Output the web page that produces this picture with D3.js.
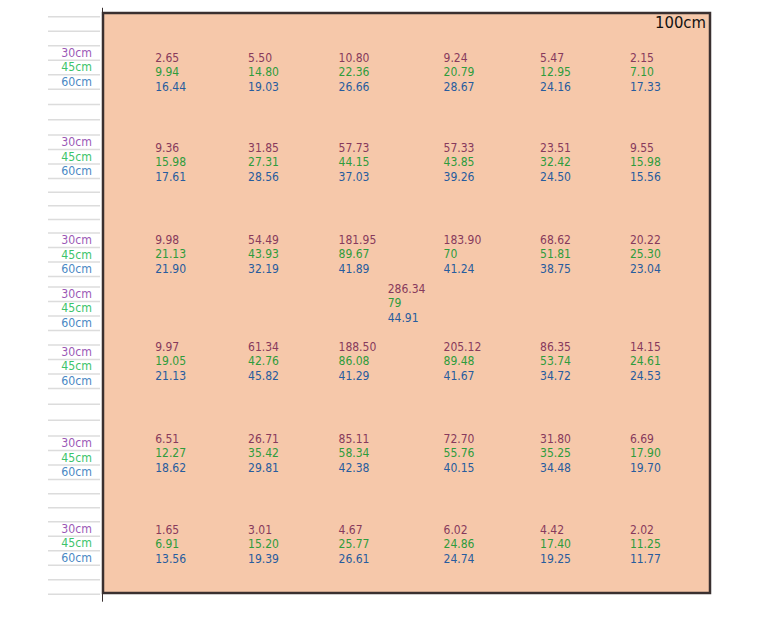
<!DOCTYPE html>
<html>
<head>
<meta charset="utf-8">
<script src="https://cdn.jsdelivr.net/npm/d3@7"></script>
<style>
  body { margin: 0; background: #fff; }
  text { font-family: "DejaVu Sans Condensed", "DejaVu Sans", sans-serif; font-stretch: condensed; }
</style>
</head>
<body>
<script>
// measurement heights, one text line per height
var heights = ["30cm", "45cm", "60cm"];

// grid positions in cm (left edge of the text column, middle line of each row)
var colPos = [8.6, 23.9, 38.8, 56.1, 72.0, 86.8];
var rowPos = [10.2, 25.7, 41.6, 60.0, 75.9, 91.6];
var centerPos = { x: 46.9, y: 50.0 };

// where the height labels sit on the left, in cm
var labelPos = [9.3, 24.7, 41.6, 50.9, 60.9, 76.6, 91.4];

// values per row: [30cm], [45cm], [60cm]
var row1 = [[2.65, 5.50, 10.80, 9.24, 5.47, 2.15],
            [9.94, 14.80, 22.36, 20.79, 12.95, 7.10],
            [16.44, 19.03, 26.66, 28.67, 24.16, 17.33]];
var row2 = [[9.36, 31.85, 57.73, 57.33, 23.51, 9.55],
            [15.98, 27.31, 44.15, 43.85, 32.42, 15.98],
            [17.61, 28.56, 37.03, 39.26, 24.50, 15.56]];
var row3 = [[9.98, 54.49, 181.95, 183.90, 68.62, 20.22],
            [21.13, 43.93, 89.67, 70, 51.81, 25.30],
            [21.90, 32.19, 41.89, 41.24, 38.75, 23.04]];
var row4 = [[9.97, 61.34, 188.50, 205.12, 86.35, 14.15],
            [19.05, 42.76, 86.08, 89.48, 53.74, 24.61],
            [21.13, 45.82, 41.29, 41.67, 34.72, 24.53]];
var row5 = [[6.51, 26.71, 85.11, 72.70, 31.80, 6.69],
            [12.27, 35.42, 58.34, 55.76, 35.25, 17.90],
            [18.62, 29.81, 42.38, 40.15, 34.48, 19.70]];
var row6 = [[1.65, 3.01, 4.67, 6.02, 4.42, 2.02],
            [6.91, 15.20, 25.77, 24.86, 17.40, 11.25],
            [13.56, 19.39, 26.61, 24.74, 19.25, 11.77]];
var centerVals = [286.34, 79, 44.91];

var rows = [row1, row2, row3, row4, row5, row6];

var valueColors = ["#873a5c", "#2e9c3c", "#275c9e"];
var labelColors = ["#9b59b6", "#3cc46a", "#4a88c4"];

var width = 757, height = 641;
var lineStep = 2.5; // cm between text lines

var svg = d3.select("body").append("svg")
    .attr("width", width)
    .attr("height", height);

var x = d3.scaleLinear().domain([0, 100]).range([103, 710]);
var y = d3.scaleLinear().domain([0, 100]).range([13, 593]);

function fmt(v) {
    return Number.isInteger(v) ? String(v) : v.toFixed(2);
}

// gray row lines on the left: around every label group, filled in between
var ticks = [];
labelPos.forEach(function(c, i) {
    var top = c - 1.5 * lineStep, bottom = c + 1.5 * lineStep;
    var prevEnd = i == 0 ? null : labelPos[i - 1] + 1.5 * lineStep;
    if (prevEnd === null) {
        for (var t = top - lineStep; t >= 0; t -= lineStep) ticks.push(t);
    } else {
        var n = Math.round((top - prevEnd) / lineStep);
        for (var k = 1; k < n; k++) ticks.push(prevEnd + k * (top - prevEnd) / n);
    }
    for (var j = 0; j < 4; j++) ticks.push(top + j * lineStep);
    if (i == labelPos.length - 1) {
        for (var t2 = bottom + lineStep; t2 <= 100.5; t2 += lineStep) ticks.push(t2);
    }
});

var yAxis = d3.axisLeft(y)
    .tickValues(ticks)
    .tickSize(52)
    .tickSizeOuter(0)
    .tickFormat("");

var axisG = svg.append("g")
    .attr("transform", "translate(" + (x(0) - 3) + ",0)")
    .call(yAxis);
axisG.select(".domain").remove();
axisG.selectAll(".tick line")
    .attr("stroke", "#dcdcdc")
    .attr("stroke-width", 1.5);

// plot area
svg.append("rect")
    .attr("x", x(0))
    .attr("y", y(0))
    .attr("width", x(100) - x(0))
    .attr("height", y(100) - y(0))
    .attr("fill", "#f6c8aa")
    .attr("stroke", "#3a3030")
    .attr("stroke-width", 2.5);

// the axis line runs a little past the box
svg.append("line")
    .attr("x1", x(0) - 0.5).attr("x2", x(0) - 0.5)
    .attr("y1", y(-0.9)).attr("y2", y(101.5))
    .attr("stroke", "#3a3030")
    .attr("stroke-width", 1);

// height labels
labelPos.forEach(function(c) {
    heights.forEach(function(h, k) {
        svg.append("text")
            .attr("x", x(0) - 11)
            .attr("y", y(c + (k - 1) * lineStep))
            .attr("dy", "0.35em")
            .attr("text-anchor", "end")
            .attr("font-size", 12.2)
            .attr("fill", labelColors[k])
            .text(h);
    });
});

// values
rows.forEach(function(row, r) {
    row.forEach(function(series, k) {
        svg.append("g").selectAll("text")
            .data(series)
            .enter().append("text")
            .attr("x", function(d, c) { return x(colPos[c]); })
            .attr("y", y(rowPos[r] + (k - 1) * lineStep))
            .attr("dy", "0.35em")
            .attr("font-size", 12)
            .attr("fill", valueColors[k])
            .text(fmt);
    });
});

svg.append("g").selectAll("text")
    .data(centerVals)
    .enter().append("text")
    .attr("x", x(centerPos.x))
    .attr("y", function(d, k) { return y(centerPos.y + (k - 1) * lineStep); })
    .attr("dy", "0.35em")
    .attr("font-size", 12)
    .attr("fill", function(d, k) { return valueColors[k]; })
    .text(fmt);

svg.append("text")
    .attr("x", x(100) - 4)
    .attr("y", y(0) + 15)
    .attr("text-anchor", "end")
    .attr("font-size", 16.5)
    .attr("fill", "#111")
    .text("100cm");
</script>
</body>
</html>
